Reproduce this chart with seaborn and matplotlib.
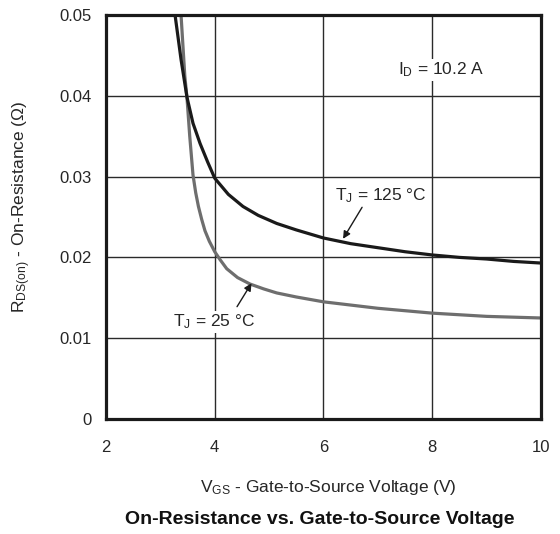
import matplotlib
matplotlib.use("Agg")
import matplotlib.pyplot as plt
import seaborn as sns
import pandas as pd

# Data
vgs_125 = [3.27, 3.38, 3.49, 3.6, 3.73, 3.87, 4.0, 4.25, 4.52, 4.8, 5.14, 5.5, 6.0, 6.5, 7.0, 7.5, 8.0, 8.5, 9.0, 9.5, 10.0]
rds_125 = [0.0500, 0.0445, 0.0398, 0.0366, 0.0341, 0.0318, 0.0298, 0.0278, 0.0263, 0.0252, 0.0242, 0.0234, 0.0224, 0.0217, 0.0212, 0.0207, 0.0203, 0.0200, 0.0198, 0.0195, 0.0193]

vgs_25 = [3.38, 3.45, 3.49, 3.54, 3.60, 3.65, 3.70, 3.76, 3.82, 3.90, 4.0, 4.1, 4.22, 4.42, 4.65, 4.9, 5.14, 5.5, 6.0, 6.5, 7.0, 7.5, 8.0, 8.5, 9.0, 9.5, 10.0]
rds_25 = [0.0500, 0.0424, 0.0397, 0.0350, 0.0302, 0.0280, 0.0263, 0.0247, 0.0233, 0.0220, 0.0207, 0.0197, 0.0186, 0.0175, 0.0167, 0.0161, 0.0156, 0.0151, 0.0145, 0.0141, 0.0137, 0.0134, 0.0131, 0.0129, 0.0127, 0.0126, 0.0125]

x_ticks = [2, 4, 6, 8, 10]
y_ticks = [0, 0.01, 0.02, 0.03, 0.04, 0.05]
y_tick_labels = ["0", "0.01", "0.02", "0.03", "0.04", "0.05"]

sns.set_style("white")
plt.rcParams["font.family"] = ["Liberation Sans", "DejaVu Sans"]
plt.rcParams["mathtext.fontset"] = "custom"
plt.rcParams["mathtext.rm"] = "Liberation Sans"
plt.rcParams["mathtext.it"] = "Liberation Sans"
plt.rcParams["mathtext.default"] = "regular"

TXT = "#262626"

df = pd.concat([
    pd.DataFrame({"VGS": vgs_125, "RDS": rds_125, "TJ": "125"}),
    pd.DataFrame({"VGS": vgs_25, "RDS": rds_25, "TJ": "25"}),
])

fig = plt.figure(figsize=(5.6, 5.34), dpi=100)
ax = fig.add_axes([0.1893, 0.2154, 0.966 - 0.1893, 0.9719 - 0.2154])

sns.lineplot(data=df, x="VGS", y="RDS", hue="TJ", hue_order=["25", "125"],
             palette={"125": "#1a1a1a", "25": "#6e6e6e"}, linewidth=2.3,
             legend=False, ax=ax, estimator=None, sort=False)

ax.set_xlim(2, 10)
ax.set_ylim(0, 0.05)
ax.set_xticks(x_ticks)
ax.set_yticks(y_ticks)
ax.set_yticklabels(y_tick_labels)
ax.grid(True, color="#2a2a2a", linewidth=1.0)
ax.set_axisbelow(True)
for s in ax.spines.values():
    s.set_color("#1a1a1a")
    s.set_linewidth(2.3)
ax.tick_params(axis="both", length=0, labelsize=12, colors=TXT)
ax.tick_params(axis="x", pad=15)
ax.tick_params(axis="y", pad=10)

ax.set_xlabel(r"V$_{GS}$ - Gate-to-Source Voltage (V)", fontsize=12.5, color=TXT)
ax.xaxis.set_label_coords((328.5 - 106) / 435, (419 - 488) / 404)
ax.xaxis.label.set_va("center")
ax.set_ylabel(r"R$_{DS(on)}$ - On-Resistance ($\Omega$)", fontsize=12.5, color=TXT)
ax.yaxis.set_label_coords((22 - 106) / 435, (419 - 206.5) / 404)
ax.yaxis.label.set_va("center")

fig.text(319.5 / 560, 1 - 519 / 534, "On-Resistance vs. Gate-to-Source Voltage",
         ha="center", va="center", fontsize=14, fontweight="bold", color="#111111")

ax.text(7.37, 0.0432, r"I$_D$ = 10.2 A", fontsize=12.5, color=TXT,
        ha="left", va="center", bbox=dict(facecolor="white", edgecolor="none", pad=1.5))

ax.text(6.21, 0.0276, r"T$_J$ = 125 °C", fontsize=12.5, color=TXT,
        ha="left", va="center", bbox=dict(facecolor="white", edgecolor="none", pad=1.0))
ax.annotate("", xy=(6.36, 0.0223), xytext=(6.71, 0.0262),
            arrowprops=dict(arrowstyle="-|>", color="#1a1a1a", lw=1.0,
                            shrinkA=0, shrinkB=0, mutation_scale=11))

ax.text(3.23, 0.0120, r"T$_J$ = 25 °C", fontsize=12.5, color=TXT,
        ha="left", va="center", bbox=dict(facecolor="white", edgecolor="none", pad=1.0))
ax.annotate("", xy=(4.676, 0.0168), xytext=(4.41, 0.0139),
            arrowprops=dict(arrowstyle="-|>", color="#1a1a1a", lw=1.0,
                            shrinkA=0, shrinkB=0, mutation_scale=11))

fig.savefig("out.png", dpi=100)
